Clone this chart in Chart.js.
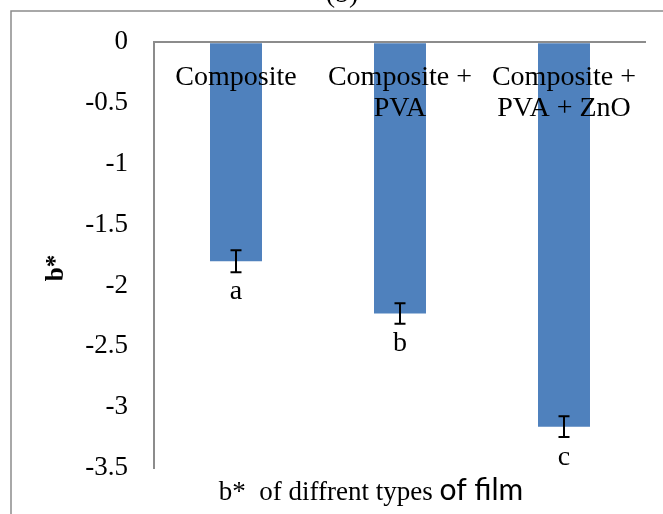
<!DOCTYPE html>
<html>
<head>
<meta charset="utf-8">
<script src="https://cdn.jsdelivr.net/npm/chart.js@4.4.1/dist/chart.umd.min.js"></script>
<style>
  html, body { margin: 0; padding: 0; background: #ffffff; }
  #wrap { width: 663px; height: 514px; position: relative; }
</style>
</head>
<body>
<div id="wrap"><canvas id="c" width="663" height="514"></canvas></div>
<script>
// ---------- data ----------
const categories = ['Composite', 'Composite + PVA', 'Composite + PVA + ZnO'];
const categoryLabelLines = [['Composite'], ['Composite +', 'PVA'], ['Composite +', 'PVA + ZnO']];
const bValues = [-1.80, -2.23, -3.16];
const bErrors = [0.09, 0.085, 0.085];
const groupLetters = ['a', 'b', 'c'];
const yTickValues = [-3.5, -3, -2.5, -2, -1.5, -1, -0.5, 0];
const yTickLabels = ['-3.5', '-3', '-2.5', '-2', '-1.5', '-1', '-0.5', '0'];
const chartTitle = '(b)';
const yAxisTitle = 'b*';
const xAxisTitleSerif = 'b*  of diffrent types';
const xAxisTitleSans = 'of film';

// ---------- styles ----------
const BAR_COLOR = '#4F81BD';
const AXIS_COLOR = '#8C8C8C';
const SERIF = "'Liberation Serif', 'Times New Roman', serif";

const decorPlugin = {
  id: 'decor',
  beforeDraw(chart) {
    const ctx = chart.ctx;
    ctx.save();
    ctx.strokeStyle = AXIS_COLOR;
    ctx.lineWidth = 1.5;
    ctx.beginPath();
    ctx.moveTo(11, 514);
    ctx.lineTo(11, 11);
    ctx.lineTo(663, 11);
    ctx.stroke();
    ctx.fillStyle = '#000';
    ctx.font = '28px ' + SERIF;
    ctx.textAlign = 'center';
    ctx.textBaseline = 'alphabetic';
    ctx.fillText(chartTitle, 342, 2);
    ctx.restore();
  },
  afterDatasetsDraw(chart) {
    const ctx = chart.ctx;
    const x = chart.scales.x;
    const y = chart.scales.y;
    const meta = chart.getDatasetMeta(0);
    ctx.save();
    ctx.strokeStyle = '#000';
    ctx.lineWidth = 2;
    bValues.forEach((v, i) => {
      const cx = meta.data[i].x;
      const yTop = y.getPixelForValue(v + bErrors[i]);
      const yBot = y.getPixelForValue(v - bErrors[i]);
      ctx.beginPath();
      ctx.moveTo(cx, yTop); ctx.lineTo(cx, yBot);
      ctx.moveTo(cx - 5.5, yTop); ctx.lineTo(cx + 5.5, yTop);
      ctx.moveTo(cx - 5.5, yBot); ctx.lineTo(cx + 5.5, yBot);
      ctx.stroke();
    });
    ctx.fillStyle = '#000';
    ctx.textAlign = 'center';
    ctx.textBaseline = 'alphabetic';
    ctx.font = '28px ' + SERIF;
    bValues.forEach((v, i) => {
      ctx.fillText(groupLetters[i], meta.data[i].x, y.getPixelForValue(v) + 38);
    });
    ctx.font = '28px ' + SERIF;
    categoryLabelLines.forEach((lines, i) => {
      const cx = x.getPixelForValue(i);
      lines.forEach((ln, j) => {
        ctx.fillText(ln, cx, chart.chartArea.top + 43 + j * 31);
      });
    });
    ctx.save();
    ctx.translate(57, 268);
    ctx.rotate(-Math.PI / 2);
    ctx.font = 'bold 25px ' + SERIF;
    ctx.textBaseline = 'middle';
    ctx.fillText(yAxisTitle, 0, 0);
    ctx.restore();
    const serifFont = "27px " + SERIF;
    const sansFont = "30px Lato, 'Open Sans', sans-serif";
    ctx.font = serifFont;
    const w1 = ctx.measureText(xAxisTitleSerif + ' ').width;
    ctx.font = sansFont;
    const w2 = ctx.measureText(xAxisTitleSans).width;
    const startX = 371 - (w1 + w2) / 2;
    ctx.textAlign = 'left';
    ctx.font = serifFont;
    ctx.fillText(xAxisTitleSerif + ' ', startX, 500);
    ctx.font = sansFont;
    ctx.fillText(xAxisTitleSans, startX + w1, 500);
    ctx.restore();
  }
};

new Chart(document.getElementById('c'), {
  type: 'bar',
  data: {
    labels: categories,
    datasets: [{
      data: bValues,
      backgroundColor: BAR_COLOR,
      borderWidth: 0,
      categoryPercentage: 1.0,
      barPercentage: 0.317
    }]
  },
  options: {
    responsive: false,
    animation: false,
    devicePixelRatio: 1,
    layout: { padding: { left: 0, right: 17, top: 39, bottom: 0 } },
    plugins: { legend: { display: false }, tooltip: { enabled: false }, title: { display: false } },
    scales: {
      x: {
        ticks: { display: false },
        grid: { display: false, drawTicks: false },
        border: { display: false },
        afterFit(s) { s.height = 46; }
      },
      y: {
        min: -3.5,
        max: 0,
        afterBuildTicks(s) { s.ticks = yTickValues.map(v => ({ value: v })); },
        ticks: {
          padding: 26,
          color: '#000',
          font: { family: SERIF, size: 27 },
          callback: (v) => yTickLabels[yTickValues.indexOf(v)]
        },
        grid: {
          drawTicks: false,
          lineWidth: 2,
          color: (c) => (c.tick && c.tick.value === 0 ? AXIS_COLOR : 'rgba(0,0,0,0)')
        },
        border: { display: true, color: AXIS_COLOR, width: 2 },
        afterFit(s) { s.width = 154; }
      }
    }
  },
  plugins: [decorPlugin]
});
</script>
</body>
</html>
